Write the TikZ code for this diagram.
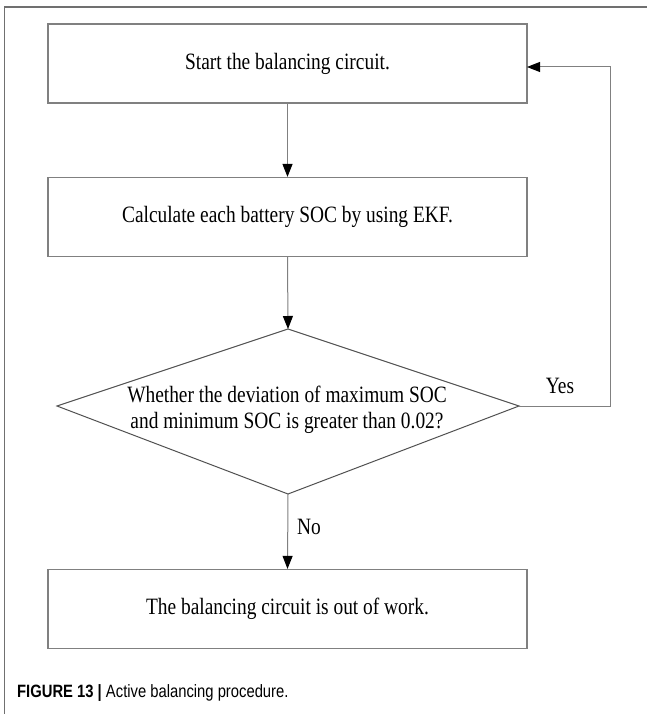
\documentclass[tikz,border=0pt]{standalone}
\usepackage{fontspec}
\usepackage{graphicx}
\setmainfont{Liberation Serif}
\newfontfamily\capfont{Liberation Sans}
\usetikzlibrary{arrows.meta}
\definecolor{boxgray}{HTML}{808080}
\definecolor{diagray}{HTML}{505050}
\definecolor{framegray}{HTML}{707070}
\newcommand{\tallt}[1]{\scalebox{0.97}[1.17]{#1}}
\tikzset{
  procbox/.style={draw=boxgray, line width=1.2pt, minimum width=479pt, minimum height=79pt, inner sep=0pt, font=\fontsize{20}{24}\selectfont},
  arr/.style={draw=boxgray, line width=1pt, -{Triangle[width=10pt,length=13pt,fill=black,color=black]}},
  lbl/.style={font=\fontsize{20}{24}\selectfont, inner sep=0pt},
}
\begin{document}
\begin{tikzpicture}[x=1pt,y=-1pt]
\useasboundingbox (0,0) rectangle (647,714);
% frame
\draw[framegray, line width=1.2pt] (647,7) -- (4.5,7) -- (4.5,714);
% boxes
\node[procbox] (b1) at (287.5,63.5) {\tallt{Start the balancing circuit.}};
\node[procbox] (b2) at (287.5,217) {\tallt{Calculate each battery SOC by using EKF.}};
\node[procbox] (b3) at (287.5,609) {\tallt{The balancing circuit is out of work.}};
% decision
\coordinate (dt) at (288,329);
\coordinate (dr) at (519,406);
\coordinate (db) at (288,494);
\coordinate (dl) at (57,406);
\draw[diagray, line width=1pt] (dt) -- (dr) -- (db) -- (dl) -- cycle;
\node[lbl] (dtext1) at (287,394) {\tallt{Whether the deviation of maximum SOC}};
\node[lbl] (dtext2) at (287,423) {\tallt{and minimum SOC is greater than 0.02?}};
% connectors
\draw[arr] (b1.south) -- (b2.north);
\draw[arr] (b2.south) -- (dt);
\draw[arr] (db) -- (b3.north);
\coordinate (corner) at (610,406);
\coordinate (entry) at (527,67);
\draw[arr] (dr) -- (corner) |- (entry);
% labels
\node[lbl] (yes) at (560,386) {\tallt{Yes}};
\node[lbl, anchor=west] (no) at (297,527) {\tallt{No}};
% caption
\node[anchor=west, inner sep=0pt, font=\capfont\fontsize{17}{20}\selectfont] (cap) at (17,693) {\scalebox{0.87}[1.05]{\textbf{FIGURE 13 |} Active balancing procedure.}};
\end{tikzpicture}
\end{document}
